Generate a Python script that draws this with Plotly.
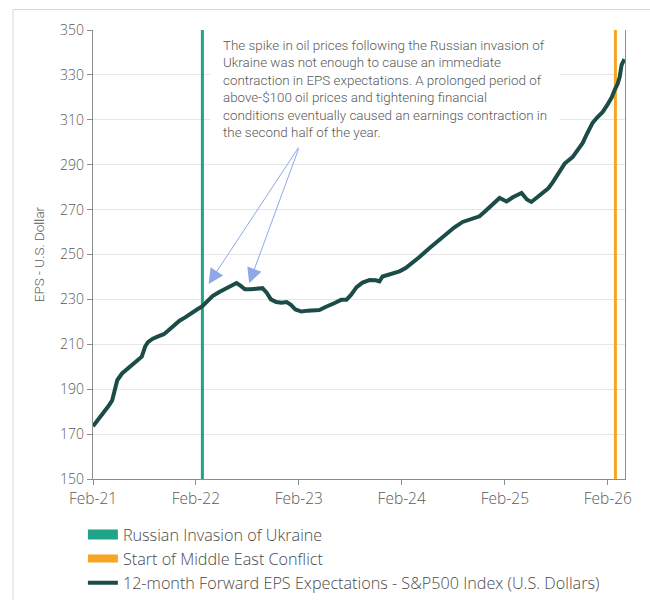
import plotly.graph_objects as go

# 12-month forward EPS expectations, S&P 500 (U.S. dollars)
eps_dates = [
    "2021-02-01", "2021-02-20", "2021-03-10", "2021-03-28", "2021-04-10", "2021-04-20",
    "2021-04-28", "2021-05-15", "2021-06-01", "2021-06-20", "2021-07-10", "2021-07-24",
    "2021-08-05", "2021-08-15", "2021-09-01", "2021-09-20", "2021-10-10", "2021-10-25",
    "2021-11-15", "2021-12-05", "2021-12-25", "2022-01-15", "2022-02-05", "2022-02-24",
    "2022-03-15", "2022-04-01", "2022-04-25", "2022-05-15", "2022-06-05", "2022-06-25",
    "2022-07-10", "2022-07-25", "2022-08-15", "2022-09-05", "2022-09-25", "2022-10-10",
    "2022-10-25", "2022-11-13", "2022-12-01", "2022-12-20", "2023-01-05", "2023-01-20",
    "2023-02-10", "2023-03-05", "2023-03-25", "2023-04-15", "2023-05-05", "2023-05-20",
    "2023-06-10", "2023-07-01", "2023-07-20", "2023-08-05", "2023-08-25", "2023-09-15",
    "2023-10-10", "2023-11-01", "2023-11-14", "2023-11-25", "2023-12-15", "2024-01-05",
    "2024-01-24", "2024-02-15", "2024-03-10", "2024-04-05", "2024-05-10", "2024-06-10",
    "2024-07-09", "2024-08-05", "2024-09-04", "2024-10-05", "2024-11-03", "2024-11-25",
    "2024-12-15", "2025-01-13", "2025-02-07", "2025-03-01", "2025-04-01", "2025-04-20",
    "2025-05-06", "2025-05-25", "2025-06-14", "2025-07-05", "2025-07-20", "2025-08-01",
    "2025-08-14", "2025-09-01", "2025-09-29", "2025-10-15", "2025-11-04", "2025-11-20",
    "2025-12-09", "2025-12-25", "2026-01-14", "2026-02-01", "2026-02-15", "2026-02-26",
    "2026-03-08", "2026-03-15", "2026-03-22", "2026-04-01",
]
eps_values = [
    173.5, 176.5, 179.5, 182.5, 185.0, 189.5,
    194.0, 197.0, 199.0, 201.0, 203.0, 204.5,
    209.0, 211.0, 212.5, 213.5, 214.5, 216.0,
    218.5, 220.5, 222.0, 224.0, 225.5, 227.0,
    229.5, 231.5, 233.3, 234.5, 236.0, 237.3,
    236.0, 234.5, 234.5, 234.8, 235.0, 233.0,
    230.0, 228.8, 228.5, 228.8, 227.5, 225.5,
    224.6, 225.0, 225.0, 225.3, 226.5, 227.5,
    228.5, 229.8, 229.8, 232.0, 235.5, 237.5,
    238.6, 238.5, 238.0, 240.2, 241.0, 241.5,
    242.5, 244.0, 246.2, 249.0, 252.9, 256.3,
    259.6, 262.0, 264.5, 265.8, 267.0, 269.5,
    272.0, 275.2, 273.6, 275.5, 277.4, 274.5,
    273.4, 275.5, 277.5, 279.5, 282.0, 284.5,
    287.6, 290.5, 293.4, 296.5, 299.7, 304.0,
    308.6, 311.0, 313.5, 317.0, 320.0, 323.5,
    326.0, 329.0, 334.5, 337.0,
]

# event markers
event_names = ["Russian Invasion of Ukraine", "Start of Middle East Conflict"]
event_dates = ["2022-02-24", "2026-02-28"]
event_colors = ["#1fa487", "#f6a623"]

series_name = "12-month Forward EPS Expectations - S&P500 Index (U.S. Dollars)"
series_color = "#1c4c47"

y_range = [150, 350]
y_ticks = list(range(150, 351, 20))
x_tick_vals = ["2021-02-01", "2022-02-01", "2023-02-01", "2024-02-01", "2025-02-01", "2026-02-01"]
x_tick_text = ["Feb-21", "Feb-22", "Feb-23", "Feb-24", "Feb-25", "Feb-26"]
x_range = ["2021-02-01", "2026-04-03"]

note_text = (
    "The spike in oil prices following the Russian invasion of<br>"
    "Ukraine was not enough to cause an immediate<br>"
    "contraction in EPS expectations. A prolonged period of<br>"
    "above-$100 oil prices and tightening financial<br>"
    "conditions eventually caused an earnings contraction in<br>"
    "the second half of the year."
)
# points the note's arrows land on
arrow_dates = ["2022-03-18", "2022-08-09"]
arrow_values = [236.9, 237.2]

FONT = "Roboto"
GREY = "#5a5a5a"

fig = go.Figure()

# vertical event lines
for name, d, c in zip(event_names, event_dates, event_colors):
    fig.add_trace(go.Scatter(
        x=[d, d], y=y_range, mode="lines",
        line=dict(color=c, width=3),
        name=name, showlegend=False, hoverinfo="skip",
    ))

# EPS line
fig.add_trace(go.Scatter(
    x=eps_dates, y=eps_values, mode="lines",
    line=dict(color=series_color, width=4),
    name=series_name, showlegend=False,
))

# legend entries (thick swatches for the event lines)
for i, (name, c) in enumerate(zip(event_names, event_colors)):
    fig.add_trace(go.Scatter(
        x=[None], y=[None], mode="lines",
        line=dict(color=c, width=10 if i == 0 else 8),
        name=name, legendgroup=f"g{i}",
    ))
fig.add_trace(go.Scatter(
    x=[None], y=[None], mode="lines",
    line=dict(color=series_color, width=4),
    name=series_name, legendgroup="g2",
))

# note with arrows
fig.add_annotation(
    x=0.22, y=1.011, xref="paper", yref="paper",
    xanchor="left", yanchor="top", align="left",
    text=note_text, showarrow=False,
    font=dict(family=FONT, size=13.4, color=GREY, weight=300),
    bgcolor="white", borderpad=12,
)
for d, v, tail_dx, tail_dy in zip(arrow_dates, arrow_values, [91, 50], [-138, -136]):
    fig.add_annotation(
        x=d, y=v, xref="x", yref="y", text="",
        showarrow=True, ax=tail_dx, ay=tail_dy,
        arrowcolor="#8ea8e8", arrowwidth=1, arrowhead=2, arrowsize=3,
    )

# outer frame
fig.add_shape(
    type="rect", xref="paper", yref="paper",
    x0=-0.1504, x1=1.3, y0=-0.4, y1=1.0457,
    line=dict(color="#d6d6d6", width=1), fillcolor="rgba(0,0,0,0)",
)

fig.update_layout(
    width=650, height=600,
    margin=dict(l=93, r=25, t=30, b=121),
    paper_bgcolor="white", plot_bgcolor="white",
    font=dict(family=FONT, color=GREY),
    showlegend=True,
    legend=dict(
        x=-0.019, y=0.1375, xanchor="left", yanchor="top",
        xref="paper", yref="container",
        orientation="v", tracegroupgap=0,
        font=dict(family="Open Sans", size=16.2, color="#4a4a4a", weight=300),
        bgcolor="rgba(0,0,0,0)",
    ),
    xaxis=dict(
        type="date", range=x_range,
        tickvals=x_tick_vals, ticktext=x_tick_text,
        showgrid=False, showline=True, linecolor="#8c8c8c", linewidth=1.3,
        ticks="outside", ticklen=5, tickcolor="#8c8c8c",
        tickfont=dict(family="Open Sans", size=15.5, color=GREY, weight=300),
        zeroline=False, automargin=False,
    ),
    yaxis=dict(
        range=y_range, tickvals=y_ticks,
        showgrid=True, gridcolor="#e6e6e6", gridwidth=1,
        showline=True, mirror=True, linecolor="#8c8c8c", linewidth=1.3,
        ticks="outside", ticklen=5, tickcolor="#8c8c8c",
        tickfont=dict(family="Open Sans", size=14, color=GREY, weight=300),
        title=dict(text="EPS - U.S. Dollar", font=dict(family=FONT, size=13.5, color=GREY, weight=300), standoff=12),
        zeroline=False, automargin=False,
    ),
)

fig.write_html("out.html")
